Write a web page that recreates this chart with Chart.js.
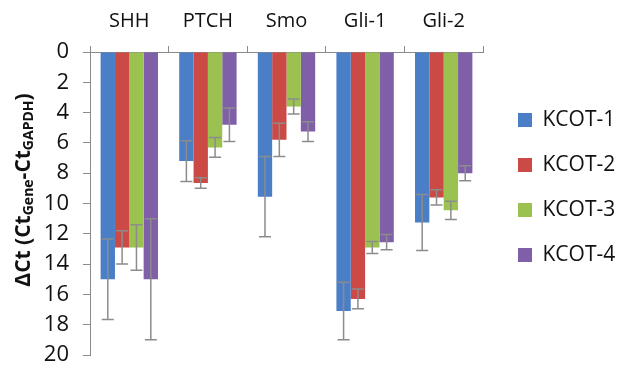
<!DOCTYPE html>
<html>
<head>
<meta charset="utf-8">
<script src="https://cdn.jsdelivr.net/npm/chart.js@4.4.1/dist/chart.umd.min.js"></script>
<style>
  html, body { margin: 0; padding: 0; background: #fff; }
  #wrap { width: 618px; height: 369px; position: relative; }
</style>
</head>
<body>
<div id="wrap"><canvas id="chart" width="618" height="369"></canvas></div>
<script>
const genes = ["SHH", "PTCH", "Smo", "Gli-1", "Gli-2"];
const seriesNames = ["KCOT-1", "KCOT-2", "KCOT-3", "KCOT-4"];
const seriesColors = ["#4a7ec7", "#cc4a46", "#9bc250", "#7e5fa8"];

// delta Ct values per series
const kcot1 = [15.0, 7.2, 9.55, 17.1, 11.25];
const kcot2 = [12.9, 8.65, 5.8, 16.3, 9.6];
const kcot3 = [12.9, 6.3, 3.6, 12.9, 10.45];
const kcot4 = [15.0, 4.8, 5.25, 12.55, 8.0];

// error bar half-lengths
const kcot1Err = [2.65, 1.35, 2.65, 1.9, 1.85];
const kcot2Err = [1.1, 0.35, 1.1, 0.65, 0.5];
const kcot3Err = [1.5, 0.65, 0.5, 0.4, 0.6];
const kcot4Err = [4.0, 1.1, 0.65, 0.5, 0.5];

const yTicks = [0, 2, 4, 6, 8, 10, 12, 14, 16, 18, 20];

const values = [kcot1, kcot2, kcot3, kcot4];
const errors = [kcot1Err, kcot2Err, kcot3Err, kcot4Err];

const axisGray = "#8a8a8a";
const textColor = "#111";

// error bars drawn on top of the bars
const errorBarPlugin = {
  id: "errorBars",
  afterDatasetsDraw(chart) {
    const ctx = chart.ctx;
    const yScale = chart.scales.y;
    ctx.save();
    ctx.strokeStyle = "#8c8c8c";
    ctx.lineWidth = 1.5;
    chart.data.datasets.forEach((ds, i) => {
      const meta = chart.getDatasetMeta(i);
      meta.data.forEach((bar, j) => {
        const v = ds.data[j];
        const e = ds.errors[j];
        const y1 = yScale.getPixelForValue(v - e);
        const y2 = yScale.getPixelForValue(v + e);
        const x = bar.x;
        ctx.beginPath();
        ctx.moveTo(x, y1);
        ctx.lineTo(x, y2);
        ctx.moveTo(x - 6, y1);
        ctx.lineTo(x + 6, y1);
        ctx.moveTo(x - 6, y2);
        ctx.lineTo(x + 6, y2);
        ctx.stroke();
      });
    });
    ctx.restore();
  }
};

// y axis title with subscripts
const yTitlePlugin = {
  id: "yTitle",
  afterDraw(chart) {
    const ctx = chart.ctx;
    const big = "bold 21px 'Open Sans'";
    const small = "bold 14px 'Open Sans'";
    const parts = [
      { t: "\u0394Ct (Ct", f: big, dy: 0 },
      { t: "Gene", f: small, dy: 5 },
      { t: "-Ct", f: big, dy: 0 },
      { t: "GAPDH", f: small, dy: 5 },
      { t: ")", f: big, dy: 0 }
    ];
    ctx.save();
    let total = 0;
    parts.forEach(p => { ctx.font = p.f; p.w = ctx.measureText(p.t).width; total += p.w; });
    ctx.translate(24, 190);
    ctx.rotate(-Math.PI / 2);
    ctx.fillStyle = textColor;
    ctx.textBaseline = "middle";
    let x = -total / 2;
    parts.forEach(p => {
      ctx.font = p.f;
      ctx.fillText(p.t, x, p.dy);
      x += p.w;
    });
    ctx.restore();
  }
};

new Chart(document.getElementById("chart"), {
  type: "bar",
  data: {
    labels: genes,
    datasets: seriesNames.map((name, i) => ({
      label: name,
      data: values[i],
      errors: errors[i],
      backgroundColor: seriesColors[i],
      borderWidth: 0,
      categoryPercentage: 0.73,
      barPercentage: 1.0
    }))
  },
  options: {
    responsive: false,
    animation: false,
    layout: { padding: { left: 44, right: 0, top: -4, bottom: 14 } },
    plugins: {
      legend: {
        position: "right",
        maxWidth: 124,
        // empty title only pushes the entries down a little
        title: { display: true, text: "", font: { size: 10 }, padding: { top: 0, bottom: 12 } },
        labels: {
          boxWidth: 14,
          boxHeight: 14,
          padding: 24,
          color: textColor,
          font: { family: "'Open Sans'", size: 21 }
        }
      },
      tooltip: { enabled: false }
    },
    scales: {
      x: {
        position: "top",
        grid: { drawOnChartArea: false, drawTicks: true, tickLength: 6, color: axisGray, offset: true },
        border: { display: true, color: axisGray, width: 1 },
        ticks: { color: textColor, font: { family: "'Open Sans'", size: 20 }, padding: 13 }
      },
      y: {
        reverse: true,
        min: 0,
        max: 20,
        afterBuildTicks(axis) { axis.ticks = yTicks.map(v => ({ value: v })); },
        grid: { drawOnChartArea: false, drawTicks: true, tickLength: 7, color: axisGray },
        border: { display: true, color: axisGray, width: 1 },
        ticks: { color: textColor, font: { family: "'Open Sans'", size: 22 }, padding: 14 },
        afterFit(axis) { axis.width = 46; axis.paddingTop = 0; axis.paddingBottom = 0; }
      },
      // empty spacer between plot and legend
      gap: {
        type: "linear",
        axis: "y",
        position: "right",
        display: true,
        grid: { display: false },
        border: { display: false },
        ticks: { display: false },
        afterFit(axis) { axis.width = 11; axis.paddingTop = 0; axis.paddingBottom = 0; }
      }
    }
  },
  plugins: [errorBarPlugin, yTitlePlugin]
});
</script>
</body>
</html>
